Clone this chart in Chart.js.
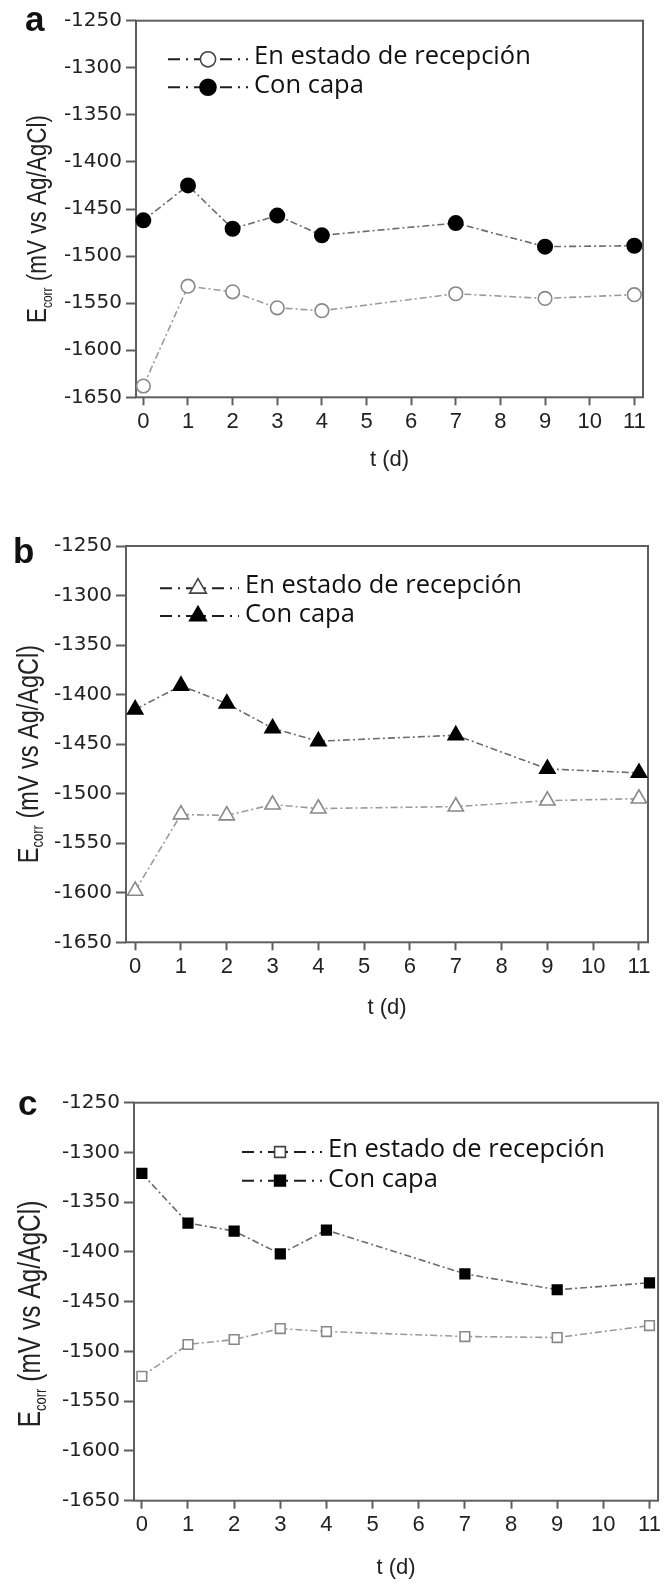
<!DOCTYPE html>
<html>
<head>
<meta charset="utf-8">
<script src="https://cdn.jsdelivr.net/npm/chart.js@4.4.1/dist/chart.umd.min.js"></script>
<style>
  html, body { margin: 0; padding: 0; background: #ffffff; }
  body { width: 664px; height: 1584px; position: relative; overflow: hidden; }
  canvas { position: absolute; left: 0; display: block; }
</style>
</head>
<body>
<canvas id="chartA" width="664" height="480" style="top:0px"></canvas>
<canvas id="chartB" width="664" height="545" style="top:480px"></canvas>
<canvas id="chartC" width="664" height="559" style="top:1025px"></canvas>
<script>
// Measurement days and axis ticks
const days = [0, 1, 2, 3, 4, 7, 9, 11];
const xTickValues = [0, 1, 2, 3, 4, 5, 6, 7, 8, 9, 10, 11];
const xTickLabels = ['0', '1', '2', '3', '4', '5', '6', '7', '8', '9', '10', '11'];
const yTickValues = [-1650, -1600, -1550, -1500, -1450, -1400, -1350, -1300, -1250];
const yTickLabels = ['-1650', '-1600', '-1550', '-1500', '-1450', '-1400', '-1350', '-1300', '-1250'];

const seriesNames = ['En estado de recepción', 'Con capa'];
const panelLetters = ['a', 'b', 'c'];
const xTitleText = 't (d)';
const yTitleMain = 'E';
const yTitleSub = 'corr';
const yTitleRest = ' (mV vs Ag/AgCl)';

// Ecorr (mV vs Ag/AgCl), panel a
const recepcionA = [-1638, -1532, -1538, -1555, -1558, -1540, -1545, -1541];
const capaA      = [-1462, -1425, -1471, -1457, -1478, -1465, -1490, -1489];
// panel b
const recepcionB = [-1598, -1521, -1522, -1511, -1515, -1513, -1507, -1505];
const capaB      = [-1415, -1391, -1409, -1434, -1447, -1441, -1475, -1479];
// panel c
const recepcionC = [-1525, -1493, -1488, -1477, -1480, -1485, -1486, -1474];
const capaC      = [-1321, -1371, -1379, -1402, -1378, -1422, -1438, -1431];

// Page layout of the three panels (page pixel coordinates)
const PANELS = [
  { canvas: 'chartA', top: 0, height: 480, area: { left: 136, top: 20.7, right: 643, bottom: 397.3 },
    xRange: [-0.165, 11.195], marker: 'circle', radius: [6.8, 7.2],
    values: [recepcionA, capaA], letter: panelLetters[0], letterAt: [25, 31],
    yTitleAt: [36, 219], yTitleSize: 22.5, xTitleY: 460,
    legend: { lineX: 168, markX: 208, textX: 254, markY: [59.3, 87.3], baseY: [64, 92.5] } },
  { canvas: 'chartB', top: 480, height: 545, area: { left: 126, top: 546, right: 648, bottom: 942.3 },
    xRange: [-0.2, 11.197], marker: 'triangle', radius: [8.8, 8.8],
    values: [recepcionB, capaB], letter: panelLetters[1], letterAt: [13, 563],
    yTitleAt: [27, 754], yTitleSize: 23.5, xTitleY: 1008,
    legend: { lineX: 160, markX: 198, textX: 245, markY: [588.3, 616], baseY: [592.5, 621.5] } },
  { canvas: 'chartC', top: 1025, height: 559, area: { left: 134, top: 1102.7, right: 658.3, bottom: 1500.7 },
    xRange: [-0.17, 11.186], marker: 'rect', radius: [6.8, 6.8],
    values: [recepcionC, capaC], letter: panelLetters[2], letterAt: [18, 1115],
    yTitleAt: [29, 1314], yTitleSize: 24.5, xTitleY: 1568,
    legend: { lineX: 242, markX: 280, textX: 328, markY: [1152, 1180.7], baseY: [1156.6, 1186.8] } }
];

const OPEN_STYLE = { line: '#9a9a9a', fill: '#ffffff', stroke: '#888888' };
const FILLED_STYLE = { line: '#6c6c6c', fill: '#000000', stroke: '#000000' };
const LINE_DASH = [7, 3, 2, 3];
const AXIS_COLOR = '#5e5e5e';
const TEXT_COLOR = '#222222';
const TITLE_STRETCH = 1.25;

// Marker outline using the same geometry as Chart.js point styles
function markerPath(ctx, style, x, y, r) {
  ctx.beginPath();
  if (style === 'circle') {
    ctx.arc(x, y, r, 0, Math.PI * 2);
  } else if (style === 'triangle') {
    let rad = 0;
    ctx.moveTo(x + Math.sin(rad) * r, y - Math.cos(rad) * r);
    rad += 2 * Math.PI / 3;
    ctx.lineTo(x + Math.sin(rad) * r, y - Math.cos(rad) * r);
    rad += 2 * Math.PI / 3;
    ctx.lineTo(x + Math.sin(rad) * r, y - Math.cos(rad) * r);
  } else {
    const s = r * Math.SQRT1_2;
    ctx.rect(x - s, y - s, 2 * s, 2 * s);
  }
  ctx.closePath();
}

const decorPlugin = {
  id: 'panelDecor',
  beforeDatasetsDraw(chart) {
    const { ctx, chartArea: a } = chart;
    ctx.save();
    ctx.strokeStyle = AXIS_COLOR;
    ctx.lineWidth = 2;
    ctx.setLineDash([]);
    ctx.strokeRect(a.left, a.top, a.right - a.left, a.bottom - a.top);
    ctx.restore();
  },
  afterDraw(chart, args, opts) {
    const p = opts.panel;
    const ctx = chart.ctx;
    const a = chart.chartArea;
    const dy = p.top;
    ctx.save();

    // panel letter
    ctx.fillStyle = '#111111';
    ctx.font = 'bold 35px "Liberation Sans", Arial, sans-serif';
    ctx.textAlign = 'left';
    ctx.textBaseline = 'alphabetic';
    ctx.fillText(p.letter, p.letterAt[0], p.letterAt[1] - dy);

    // x axis title
    ctx.fillStyle = TEXT_COLOR;
    ctx.font = '22px "Liberation Sans", Arial, sans-serif';
    ctx.textAlign = 'center';
    ctx.textBaseline = 'middle';
    ctx.fillText(xTitleText, (a.left + a.right) / 2, p.xTitleY - dy);

    // y axis title with subscript, rotated
    const big = p.yTitleSize + 'px "Liberation Sans", Arial, sans-serif';
    const small = Math.round(p.yTitleSize * 0.55) + 'px "Liberation Sans", Arial, sans-serif';
    ctx.font = big;
    const wE = ctx.measureText(yTitleMain).width;
    const wR = ctx.measureText(yTitleRest).width;
    ctx.font = small;
    const wS = ctx.measureText(yTitleSub).width;
    const total = wE + wS + wR;
    ctx.translate(p.yTitleAt[0], p.yTitleAt[1] - dy);
    ctx.rotate(-Math.PI / 2);
    ctx.scale(1, TITLE_STRETCH);
    ctx.textAlign = 'left';
    ctx.textBaseline = 'alphabetic';
    const base = p.yTitleSize * 0.36;
    let x = -total / 2;
    ctx.font = big;
    ctx.fillText(yTitleMain, x, base);
    x += wE;
    ctx.font = small;
    ctx.fillText(yTitleSub, x, base + p.yTitleSize * 0.2);
    x += wS;
    ctx.font = big;
    ctx.fillText(yTitleRest, x, base);
    ctx.setTransform(1, 0, 0, 1, 0, 0);

    // legend: dash-dot sample line, marker and label
    const L = p.legend;
    const styles = [OPEN_STYLE, FILLED_STYLE];
    for (let i = 0; i < 2; i++) {
      const my = L.markY[i] - dy;
      ctx.strokeStyle = '#1e1e1e';
      ctx.lineWidth = 2;
      ctx.setLineDash([12, 6, 2, 6]);
      ctx.beginPath();
      ctx.moveTo(L.lineX, my);
      ctx.lineTo(L.textX - 6, my);
      ctx.stroke();
      ctx.setLineDash([]);
      markerPath(ctx, p.marker, L.markX, my, p.radius[i] + 0.8);
      ctx.fillStyle = styles[i].fill;
      ctx.fill();
      ctx.strokeStyle = i === 0 ? '#444444' : styles[i].stroke;
      ctx.lineWidth = 1.6;
      ctx.stroke();
      ctx.fillStyle = '#111111';
      ctx.font = '25.5px "Open Sans", "Noto Sans", sans-serif';
      ctx.textAlign = 'left';
      ctx.textBaseline = 'alphabetic';
      ctx.fillText(seriesNames[i], L.textX, L.baseY[i] - dy);
    }
    ctx.restore();
  }
};

function buildPanel(p) {
  const a = p.area;
  const styles = [OPEN_STYLE, FILLED_STYLE];
  const datasets = p.values.map((vals, i) => ({
    label: seriesNames[i],
    data: days.map((d, k) => ({ x: d, y: vals[k] })),
    borderColor: styles[i].line,
    borderWidth: 1.6,
    borderDash: LINE_DASH,
    tension: 0,
    fill: false,
    clip: false,
    pointStyle: p.marker,
    pointRadius: p.radius[i],
    pointBackgroundColor: styles[i].fill,
    pointBorderColor: styles[i].stroke,
    pointBorderWidth: 1.6
  }));

  new Chart(document.getElementById(p.canvas), {
    type: 'line',
    data: { datasets },
    options: {
      responsive: false,
      animation: false,
      devicePixelRatio: 1,
      events: [],
      layout: {
        autoPadding: false,
        padding: { left: 0, top: a.top - p.top, right: 664 - a.right, bottom: 0 }
      },
      plugins: {
        legend: { display: false },
        tooltip: { enabled: false },
        panelDecor: { panel: p }
      },
      scales: {
        x: {
          type: 'linear',
          min: p.xRange[0],
          max: p.xRange[1],
          afterBuildTicks: (s) => { s.ticks = xTickValues.map(v => ({ value: v })); },
          afterFit: (s) => { s.height = p.height - (a.bottom - p.top); },
          ticks: {
            autoSkip: false,
            maxRotation: 0,
            padding: 3,
            color: TEXT_COLOR,
            font: { family: '"Liberation Sans", Arial, sans-serif', size: 22 },
            callback: (v, i) => xTickLabels[i]
          },
          grid: { display: true, drawOnChartArea: false, drawTicks: true, tickLength: 8, tickWidth: 2, tickColor: AXIS_COLOR },
          border: { display: false }
        },
        y: {
          type: 'linear',
          min: -1650,
          max: -1250,
          afterBuildTicks: (s) => { s.ticks = yTickValues.map(v => ({ value: v })); },
          afterFit: (s) => { s.width = a.left; },
          ticks: {
            padding: 4,
            color: TEXT_COLOR,
            font: { family: '"DejaVu Sans", sans-serif', size: 20 },
            callback: (v, i) => yTickLabels[i]
          },
          grid: { display: true, drawOnChartArea: false, drawTicks: true, tickLength: 10, tickWidth: 2, tickColor: AXIS_COLOR },
          border: { display: false }
        }
      }
    },
    plugins: [decorPlugin]
  });
}

PANELS.forEach(buildPanel);
</script>
</body>
</html>
